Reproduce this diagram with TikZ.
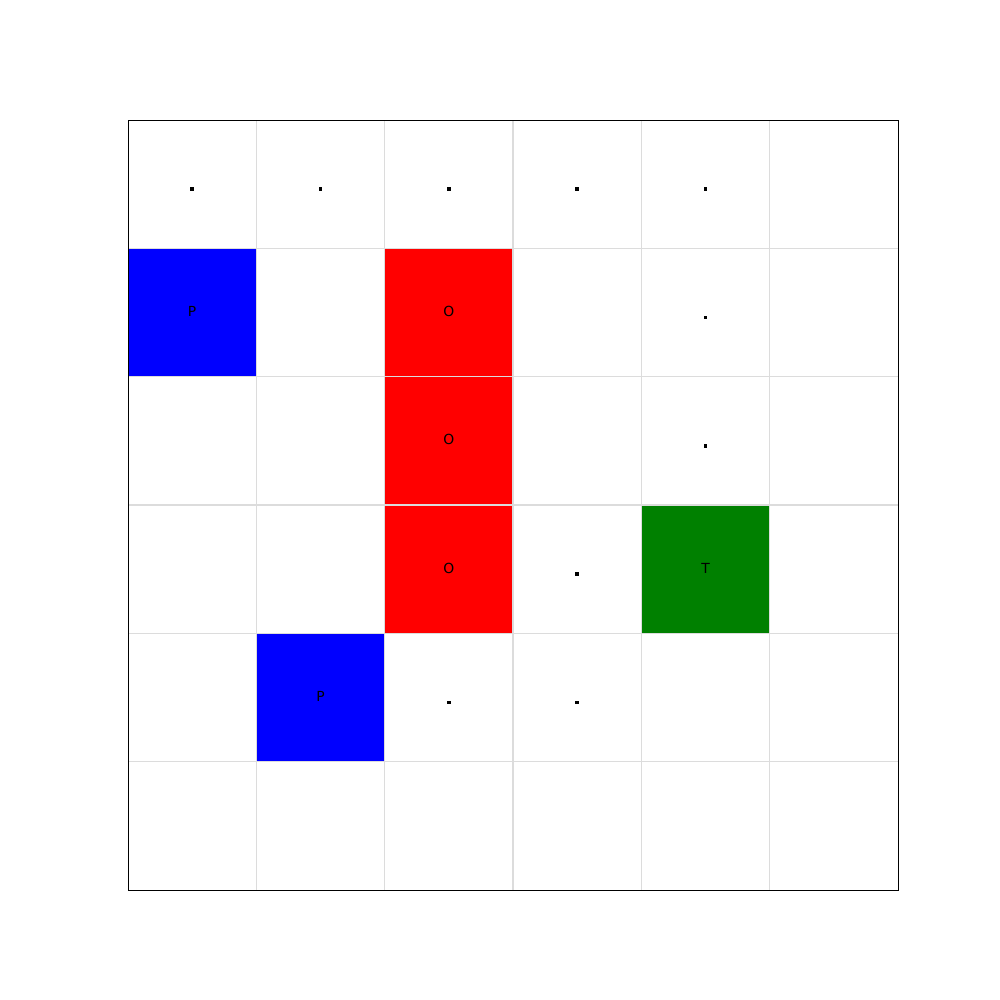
\documentclass[tikz,border=0pt]{standalone}
\usepackage{fontspec}
\setmainfont{DejaVu Sans}
\begin{document}
\begin{tikzpicture}[x=0.72pt,y=-0.72pt,
  cellP/.style={fill={rgb,255:red,0;green,0;blue,255}},
  cellO/.style={fill={rgb,255:red,255;green,0;blue,0}},
  cellT/.style={fill={rgb,255:red,0;green,128;blue,0}},
  gridline/.style={draw={rgb,255:red,220;green,220;blue,220},line width=1pt},
  lbl/.style={font=\fontsize{10}{12}\selectfont,inner sep=0pt,text=black},
  dotmark/.style={fill=black}]
\useasboundingbox (0,0) rectangle (1000,1000);
\def\cs{128.333}
% colored cells
\foreach \r/\c/\s in {1/0/cellP,1/2/cellO,2/2/cellO,3/2/cellO,3/4/cellT,4/1/cellP}{
  \path[\s] ({128+\c*\cs},{120+\r*\cs}) rectangle ({128+(\c+1)*\cs},{120+(\r+1)*\cs});
}
% grid lines
\foreach \i in {1,...,5}{
  \draw[gridline] ({128+\i*\cs},120) -- ({128+\i*\cs},890);
  \draw[gridline] (128,{120+\i*\cs}) -- (898,{120+\i*\cs});
}
% border
\draw[black,line width=0.72pt] (128,120) rectangle (898,890);
% labels
\foreach \r/\c/\t/\n in {1/0/P/p1,1/2/O/o1,2/2/O/o2,3/2/O/o3,3/4/T/t1,4/1/P/p2}{
  \node[lbl] (\n) at ({128+(\c+0.5)*\cs},{120+(\r+0.5)*\cs-1}) {\t};
}
% dots
\foreach \r/\c in {0/0,0/1,0/2,0/3,0/4,1/4,2/4,3/3,4/2,4/3}{
  \path[dotmark] ({128+(\c+0.5)*\cs-1.8},{120+(\r+0.5)*\cs+3.2}) rectangle ({128+(\c+0.5)*\cs+1.8},{120+(\r+0.5)*\cs+6.8});
}
\end{tikzpicture}
\end{document}
